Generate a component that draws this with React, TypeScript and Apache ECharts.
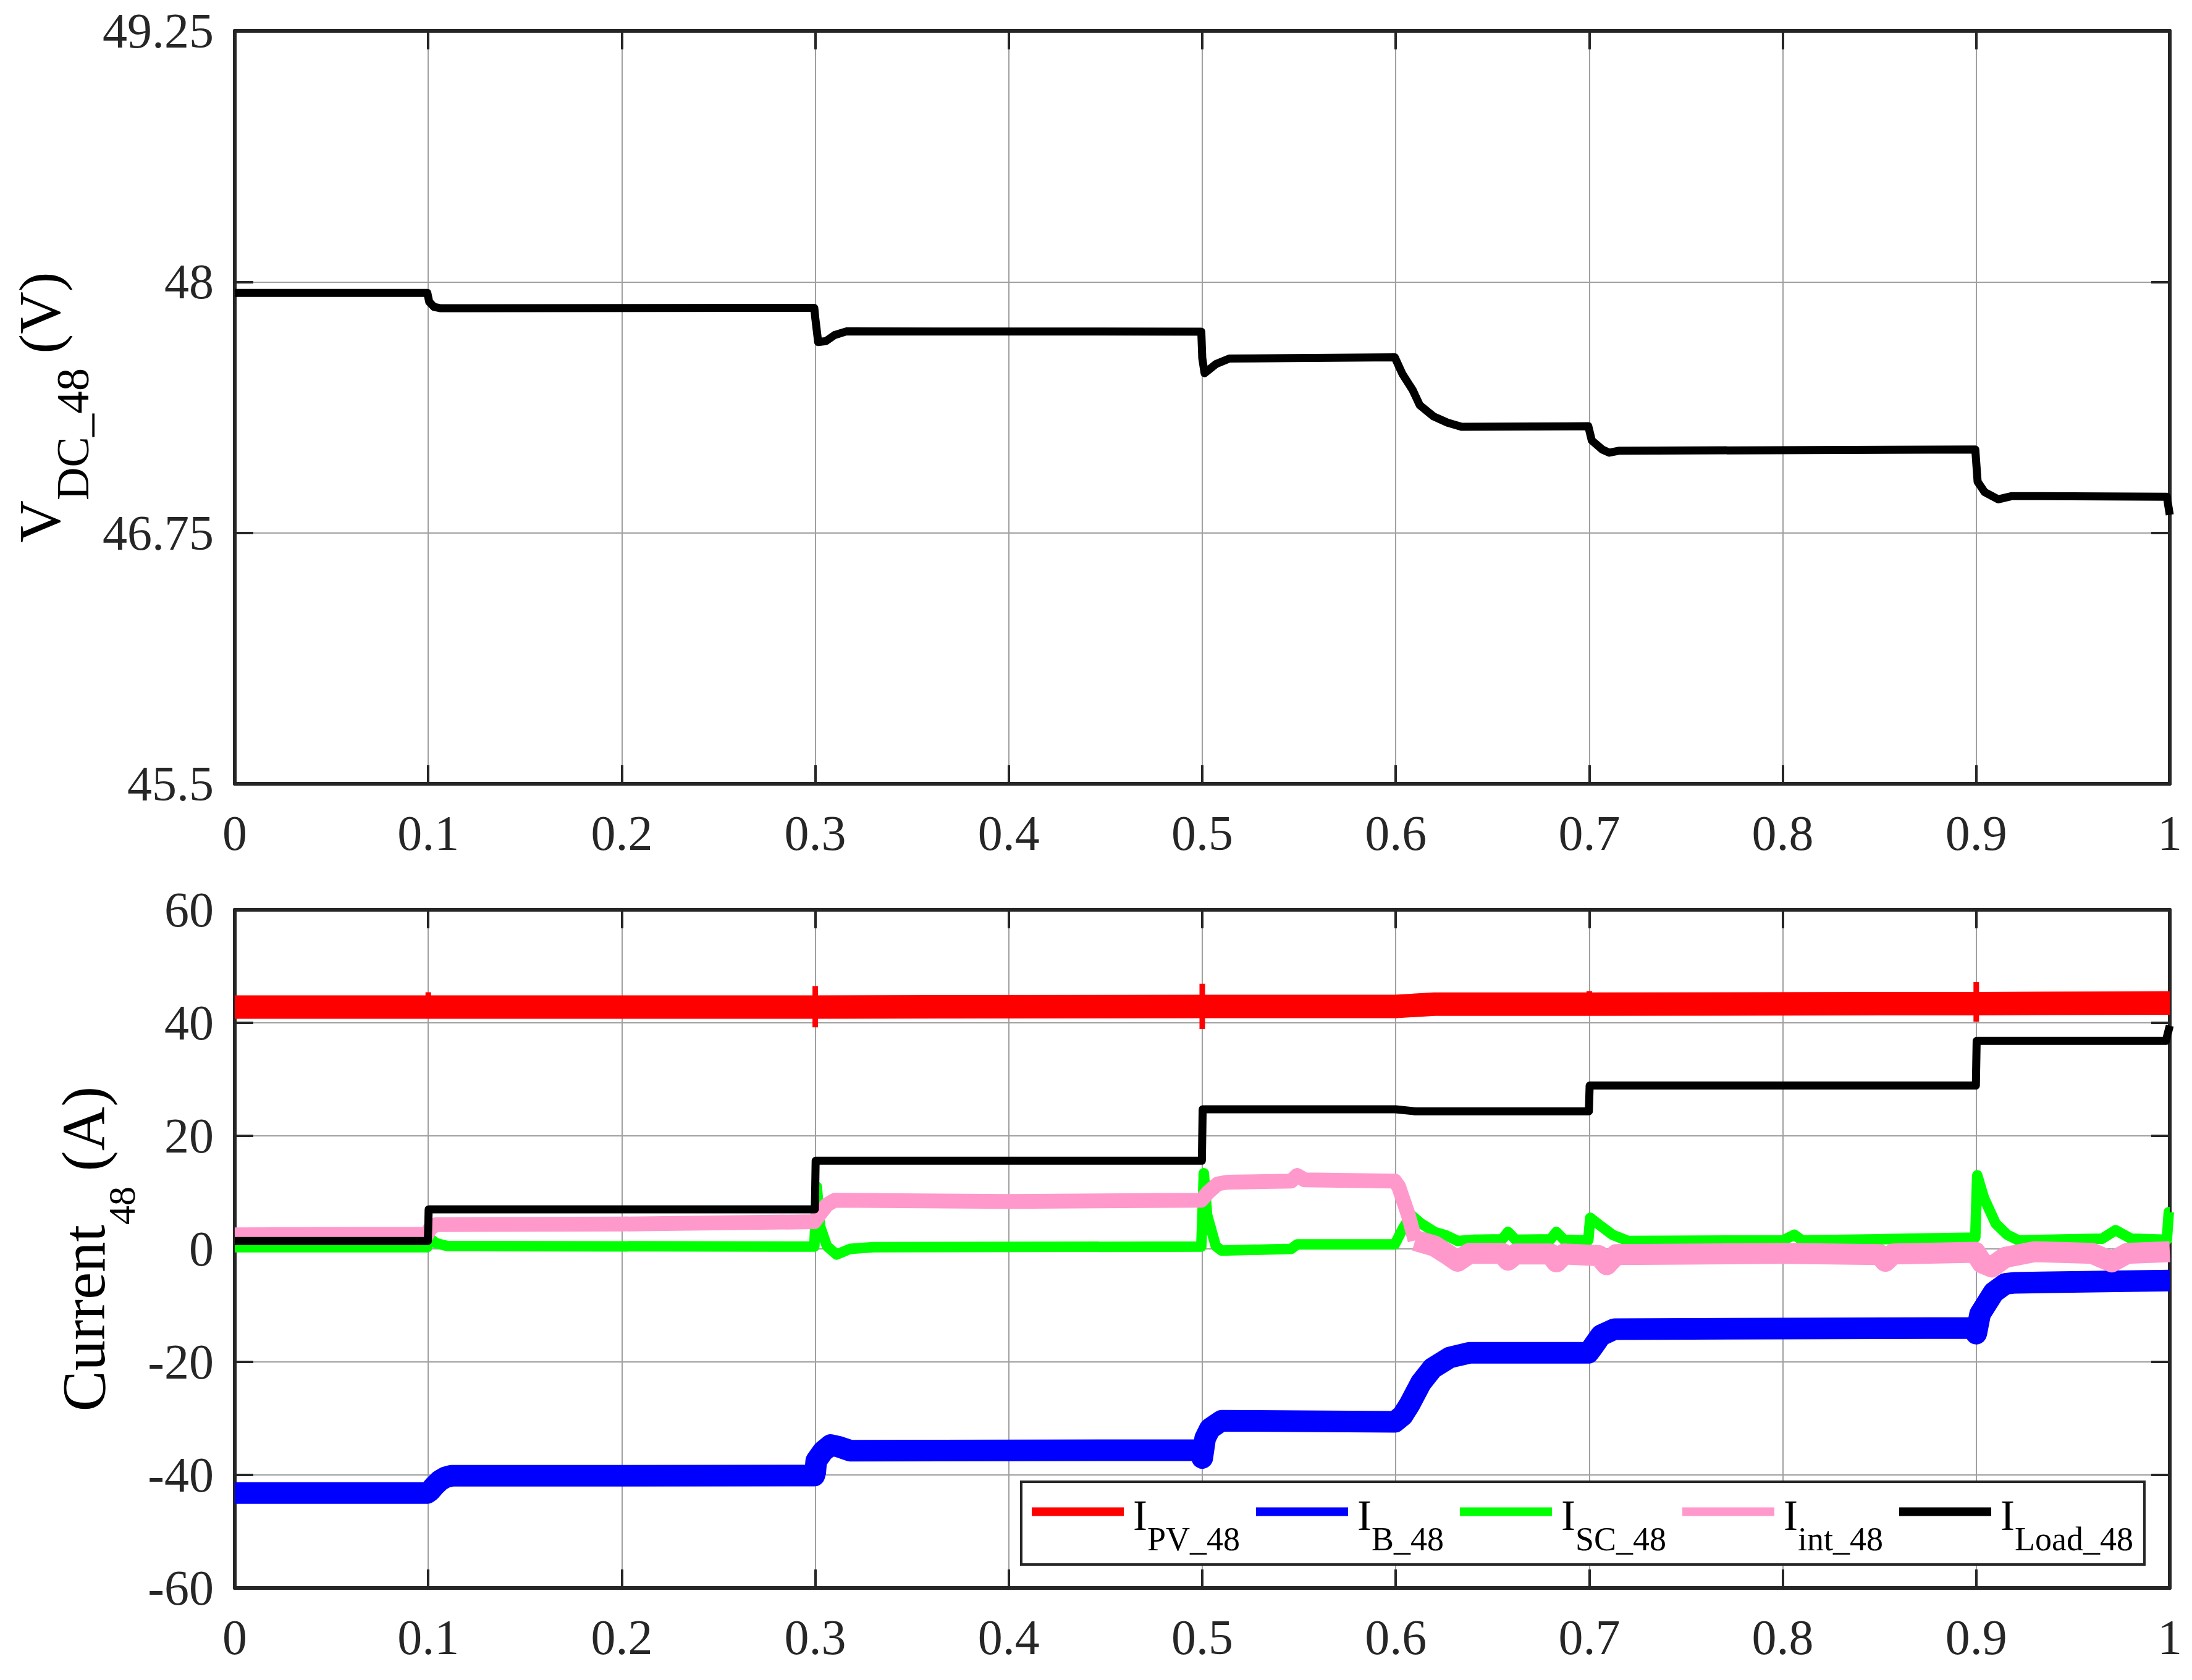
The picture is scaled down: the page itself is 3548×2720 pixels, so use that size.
import React, { useEffect, useRef } from 'react';
import * as echarts from 'echarts';

// ---------- data ----------
const timeTicks = [0, 0.1, 0.2, 0.3, 0.4, 0.5, 0.6, 0.7, 0.8, 0.9, 1];
const vdcTicks = [45.5, 46.75, 48, 49.25];
const currentTicks = [-60, -40, -20, 0, 20, 40, 60];

const vdc48: number[][] = [
  [0, 47.945], [0.0995, 47.945], [0.1005, 47.9], [0.103, 47.875], [0.106, 47.869],
  [0.2995, 47.87], [0.3, 47.82], [0.3015, 47.7], [0.3055, 47.705], [0.31, 47.735],
  [0.316, 47.753], [0.4995, 47.752], [0.5, 47.62], [0.5012, 47.545], [0.507, 47.59],
  [0.514, 47.618], [0.546, 47.62], [0.5995, 47.624],
  [0.6035, 47.54], [0.6088, 47.46], [0.6124, 47.386], [0.6195, 47.33], [0.6267, 47.299],
  [0.634, 47.278], [0.6995, 47.281], [0.7013, 47.21], [0.7067, 47.165], [0.7103, 47.149],
  [0.7156, 47.159], [0.8995, 47.165], [0.9007, 47.005], [0.9043, 46.953], [0.9114, 46.917],
  [0.9185, 46.933], [0.9985, 46.93], [1.0, 46.84],
];

// PV current: steady band centre, plus the short switching transients
const iPV48: number[][] = [
  [0, 42.8], [0.2995, 42.8], [0.4995, 42.9], [0.6, 42.9], [0.62, 43.3], [0.6995, 43.3],
  [0.8995, 43.4], [1.0, 43.5],
];
const iPV48Transients: (number | null)[][] = [
  [0.1, 41.5], [0.1, 45.4], [0.15, null],
  [0.3, 39.2], [0.3, 46.5], [0.35, null],
  [0.5, 38.9], [0.5, 46.9], [0.55, null],
  [0.7, 41.5], [0.7, 45.6], [0.75, null],
  [0.9, 40.2], [0.9, 47.2], [0.95, null],
];

const iB48: number[][] = [
  [0, -43.2], [0.0995, -43.2], [0.101, -42.8], [0.103, -42.0], [0.106, -41.0], [0.109, -40.4],
  [0.112, -40.15], [0.2995, -40.1], [0.3, -39.5], [0.3005, -37.5], [0.304, -35.8], [0.308, -34.7],
  [0.312, -35.0], [0.318, -35.7], [0.4995, -35.6], [0.5, -37.0], [0.5015, -33.5], [0.504, -31.8],
  [0.51, -30.4], [0.5995, -30.6], [0.6035, -29.5], [0.607, -27.6], [0.613, -23.7], [0.619, -21.1],
  [0.628, -19.2], [0.638, -18.4], [0.6995, -18.4], [0.7015, -17.5], [0.706, -15.3], [0.713, -14.2],
  [0.8995, -14.0], [0.9, -15.0], [0.902, -11.5], [0.909, -7.7], [0.915, -6.2], [0.92, -6.0],
  [1.0, -5.6],
];

const iSC48: number[][] = [
  [0, 0.3], [0.0995, 0.3], [0.1005, 2.0], [0.104, 1.0], [0.11, 0.5], [0.2995, 0.4], [0.3, 4.0],
  [0.3008, 11.0], [0.3025, 4.0], [0.306, 0.5], [0.311, -1.0], [0.318, 0.0], [0.33, 0.3],
  [0.4995, 0.4], [0.5, 5.0], [0.5008, 13.4], [0.5025, 6.0], [0.507, 0.5], [0.51, -0.3],
  [0.546, 0.0], [0.549, 0.8], [0.5995, 0.8], [0.6035, 3.5], [0.608, 6.0], [0.613, 4.5],
  [0.62, 3.0], [0.626, 2.4], [0.632, 1.4], [0.64, 1.6], [0.655, 1.7], [0.658, 3.0], [0.662, 1.6],
  [0.68, 1.7], [0.683, 3.0], [0.687, 1.6], [0.6995, 1.5], [0.7005, 5.5], [0.705, 4.3],
  [0.712, 2.5], [0.72, 1.4], [0.8, 1.5], [0.806, 2.5], [0.81, 1.5], [0.85, 1.7], [0.8995, 2.0],
  [0.9005, 13.0], [0.904, 9.0], [0.91, 4.5], [0.916, 2.5], [0.922, 1.5], [0.965, 1.8],
  [0.972, 3.3], [0.98, 1.8], [0.9985, 1.6], [0.9995, 6.5], [1.0, 6.5],
];

// interlink current: before and after the 0.6 s transition (wider ripple afterwards)
const iInt48Early: number[][] = [
  [0, 2.5], [0.0995, 2.6], [0.101, 3.6], [0.104, 4.3], [0.2, 4.4], [0.2995, 4.8], [0.302, 6.0],
  [0.306, 7.8], [0.31, 8.6], [0.4, 8.4], [0.4995, 8.6], [0.503, 10.0], [0.508, 11.5],
  [0.513, 11.8], [0.546, 12.0], [0.549, 13.0], [0.553, 12.2], [0.5995, 12.0], [0.6015, 11.0],
  [0.6065, 6.0], [0.61, 1.5],
];
const iInt48Late: number[][] = [
  [0.61, 1.5], [0.62, 0.5], [0.626, -0.8], [0.632, -2.2], [0.638, -0.8],
  [0.655, -0.8], [0.658, -2.0], [0.662, -0.9], [0.68, -0.9], [0.683, -2.3], [0.687, -0.9],
  [0.705, -1.2], [0.709, -2.8], [0.714, -1.0], [0.8, -0.8], [0.85, -1.0], [0.853, -2.2],
  [0.857, -0.9], [0.8995, -0.6], [0.903, -2.5], [0.908, -3.2], [0.915, -1.5], [0.93, -0.5],
  [0.96, -0.8], [0.97, -2.3], [0.978, -0.8], [1.0, -0.5],
];

const iLoad48: number[][] = [
  [0, 1.4], [0.0998, 1.4], [0.1002, 7.0], [0.2998, 7.0], [0.3002, 15.6], [0.4998, 15.6],
  [0.5002, 24.7], [0.6, 24.7], [0.61, 24.35], [0.6998, 24.35], [0.7002, 28.9], [0.8998, 28.9],
  [0.9002, 36.8], [0.998, 36.8], [1.0, 39.5],
];

const seriesNames = ['I_PV_48', 'I_B_48', 'I_SC_48', 'I_int_48', 'I_Load_48'];
const seriesColors = ['#ff0000', '#0000ff', '#00ff00', '#ff99cc', '#000000'];
const seriesData = [iPV48, iB48, iSC48, iInt48Early, iLoad48];
const seriesWidths = [38, 35, 17, 24, 13];

// ---------- styling ----------
const FONT = '"Liberation Serif", "Times New Roman", serif';
const AXIS_COLOR = '#262626';
const GRID_COLOR = '#a0a0a0';

function xAxisFor(gridIndex: number, bottom: boolean) {
  return {
    type: 'value',
    gridIndex,
    position: bottom ? 'bottom' : 'top',
    min: timeTicks[0],
    max: timeTicks[timeTicks.length - 1],
    interval: 0.1,
    axisLine: { show: true, onZero: false, lineStyle: { color: AXIS_COLOR, width: 6 } },
    axisTick: { show: true, inside: true, length: 30, lineStyle: { color: AXIS_COLOR, width: 4 } },
    axisLabel: {
      show: bottom,
      margin: 40,
      fontSize: 80,
      fontFamily: FONT,
      color: AXIS_COLOR,
    },
    splitLine: { show: bottom, lineStyle: { color: GRID_COLOR, width: 2 } },
  };
}

function yAxisFor(gridIndex: number, left: boolean, cfg: any) {
  return {
    type: 'value',
    gridIndex,
    position: left ? 'left' : 'right',
    ...cfg.range,
    axisLine: { show: true, onZero: false, lineStyle: { color: AXIS_COLOR, width: 6 } },
    axisTick: {
      show: true,
      inside: true,
      length: 30,
      lineStyle: { color: AXIS_COLOR, width: 4 },
      ...(cfg.custom ? { customValues: cfg.custom } : {}),
    },
    axisLabel: {
      show: left,
      margin: 34,
      fontSize: 80,
      fontFamily: FONT,
      color: AXIS_COLOR,
      ...(cfg.custom ? { customValues: cfg.custom } : {}),
    },
    splitLine: { show: left, lineStyle: { color: GRID_COLOR, width: 2 } },
    ...(left ? cfg.name : {}),
  };
}

export default function App() {
  const ref = useRef<HTMLDivElement>(null);

  useEffect(() => {
    document.body.style.margin = '0';
    if (!ref.current) return;
    const chart = echarts.init(ref.current, null, { renderer: 'svg' });

    const topY = {
      range: { min: vdcTicks[0], max: vdcTicks[vdcTicks.length - 1] },
      custom: vdcTicks,
      name: {
        name: '{a|V}{s|DC_48}{a| (V)}',
        nameLocation: 'middle',
        nameRotate: 90,
        nameGap: 233,
        nameTextStyle: {
          fontFamily: FONT,
          color: '#000',
          rich: {
            a: { fontFamily: FONT, fontSize: 95, lineHeight: 95, verticalAlign: 'top', color: '#000' },
            s: {
              fontFamily: FONT,
              fontSize: 74,
              lineHeight: 74,
              verticalAlign: 'top',
              padding: [64, 0, 0, 0],
              color: '#000',
            },
          },
        },
      },
    };
    const botY = {
      range: { min: currentTicks[0], max: currentTicks[currentTicks.length - 1], interval: 20 },
      custom: null,
      name: {
        name: '{a|Current}{s|48}{a| (A)}',
        nameLocation: 'middle',
        nameRotate: 90,
        nameGap: 170,
        nameTextStyle: {
          fontFamily: FONT,
          color: '#000',
          rich: {
            a: { fontFamily: FONT, fontSize: 99, lineHeight: 99, verticalAlign: 'top', color: '#000' },
            s: {
              fontFamily: FONT,
              fontSize: 62,
              lineHeight: 62,
              verticalAlign: 'top',
              padding: [80, 0, 0, 0],
              color: '#000',
            },
          },
        },
      },
    };

    const lineSeries = (name: string, data: any[], color: string, width: number, z: number) => ({
      name,
      type: 'line',
      xAxisIndex: 2,
      yAxisIndex: 2,
      data,
      showSymbol: false,
      symbol: 'none',
      lineStyle: { color, width, join: 'round' },
      itemStyle: { color },
      z,
    });

    const option: any = {
      animation: false,
      backgroundColor: '#ffffff',
      grid: [
        { left: 380, top: 50, width: 3132, height: 1219, show: false },
        { left: 380, top: 1473, width: 3132, height: 1098, show: false },
      ],
      xAxis: [xAxisFor(0, true), xAxisFor(0, false), xAxisFor(1, true), xAxisFor(1, false)],
      yAxis: [yAxisFor(0, true, topY), yAxisFor(0, false, topY), yAxisFor(1, true, botY), yAxisFor(1, false, botY)],
      legend: {
        show: true,
        data: seriesNames,
        orient: 'horizontal',
        left: 1653,
        top: 2399,
        icon: 'rect',
        itemWidth: 149,
        itemHeight: 14,
        itemGap: 26,
        padding: [14, 18, 14, 17],
        borderColor: AXIS_COLOR,
        borderWidth: 4,
        backgroundColor: '#ffffff',
        selectedMode: false,
        itemStyle: { borderWidth: 0 },
        formatter: (name: string) => `{i|I}{s|${name.slice(2)}}`,
        textStyle: {
          fontFamily: FONT,
          color: '#000',
          rich: {
            i: { fontFamily: FONT, fontSize: 69, lineHeight: 69, verticalAlign: 'top', padding: [6, 0, 0, 10], color: '#000' },
            s: { fontFamily: FONT, fontSize: 54, lineHeight: 54, verticalAlign: 'top', padding: [52, 0, 0, 0], color: '#000' },
          },
        },
      },
      series: [
        {
          name: 'V_DC_48',
          type: 'line',
          xAxisIndex: 0,
          yAxisIndex: 0,
          data: vdc48,
          showSymbol: false,
          symbol: 'none',
          lineStyle: { color: '#000', width: 13, join: 'round' },
          itemStyle: { color: '#000' },
        },
        ...seriesNames.map((n, i) => lineSeries(n, seriesData[i], seriesColors[i], seriesWidths[i], 3 + i)),
        lineSeries('I_int_48', iInt48Late, seriesColors[3], 34, 6),
        {
          name: 'I_PV_48 transients',
          type: 'line',
          xAxisIndex: 2,
          yAxisIndex: 2,
          data: iPV48Transients,
          connectNulls: false,
          showSymbol: false,
          symbol: 'none',
          lineStyle: { color: seriesColors[0], width: 9, join: 'miter' },
          itemStyle: { color: seriesColors[0] },
          z: 3,
        },
      ],
    };

    chart.setOption(option);
    return () => chart.dispose();
  }, []);

  return <div ref={ref} style={{ width: 3548, height: 2720 }} />;
}
